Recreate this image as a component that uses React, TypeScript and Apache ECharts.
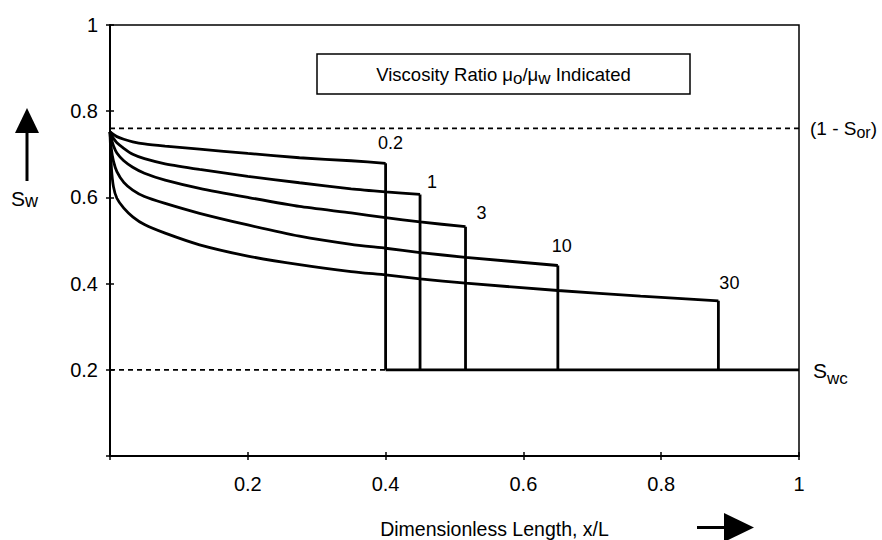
import React, { useEffect, useRef } from "react";
import * as echarts from "echarts";

const FONT = '"Liberation Sans", Arial, Helvetica, sans-serif';

// Dimensionless distance x/L at which the saturation profiles are sampled
const xPositions = [
  0, 0.002, 0.005, 0.01, 0.02, 0.033, 0.05, 0.08, 0.13, 0.2, 0.275, 0.35, 0.4, 0.45, 0.516, 0.65, 0.77, 0.883,
];

// Viscosity ratios mu_o / mu_w, one profile each
const viscosityRatios = ["0.2", "1", "3", "10", "30"];

// Water saturation Sw along x/L; each profile stops at its flood front
const swRatio02 = [0.752, 0.75, 0.746, 0.741, 0.735, 0.729, 0.724, 0.719, 0.712, 0.702, 0.692, 0.685, 0.679];
const swRatio1 = [0.752, 0.745, 0.737, 0.727, 0.714, 0.7, 0.69, 0.678, 0.665, 0.649, 0.634, 0.62, 0.613, 0.607];
const swRatio3 = [0.752, 0.736, 0.72, 0.703, 0.685, 0.67, 0.656, 0.64, 0.621, 0.6, 0.579, 0.564, 0.553, 0.543, 0.532];
const swRatio10 = [
  0.752, 0.712, 0.684, 0.66, 0.635, 0.617, 0.602, 0.586, 0.563, 0.536, 0.51, 0.491, 0.482, 0.472, 0.461, 0.442,
];
const swRatio30 = [
  0.752, 0.67, 0.625, 0.598, 0.575, 0.555, 0.537, 0.517, 0.49, 0.464, 0.444, 0.428, 0.42, 0.411, 0.401, 0.384,
  0.371, 0.36,
];
const profiles = [swRatio02, swRatio1, swRatio3, swRatio10, swRatio30];

const residualOilLimit = 0.76; // 1 - Sor
const connateWater = 0.2; // Swc

// label nudges for the ratio tags next to each front
const tagOffsets: [number, number][] = [
  [5, -6],
  [12, 2],
  [16, 1],
  [4, -5],
  [11, -3],
];

const BLACK = "#000";

export default function App() {
  const ref = useRef<HTMLDivElement>(null);

  useEffect(() => {
    if (!ref.current) return;
    const chart = echarts.init(ref.current, undefined, { renderer: "svg" });

    const fronts = profiles.map((p) => ({ x: xPositions[p.length - 1], sw: p[p.length - 1] }));
    const solid = { color: BLACK, width: 2.8 };
    const dashed = { color: BLACK, width: 1.8, type: [5, 4] as number[] };

    const series: any[] = [];
    profiles.forEach((p, i) => {
      series.push({
        type: "line",
        name: viscosityRatios[i],
        data: p.map((v, k) => [xPositions[k], v]),
        smooth: 0.2,
        symbol: "none",
        lineStyle: solid,
        z: 3,
      });
      series.push({
        type: "line",
        data: [
          [fronts[i].x, fronts[i].sw],
          [fronts[i].x, connateWater],
        ],
        symbol: "none",
        lineStyle: solid,
        z: 3,
      });
    });
    // connate water level ahead of the slowest front (solid) and behind it (dashed)
    series.push({
      type: "line",
      data: [
        [fronts[0].x, connateWater],
        [1, connateWater],
      ],
      symbol: "none",
      lineStyle: solid,
      z: 3,
    });
    series.push({
      type: "line",
      data: [
        [0, connateWater],
        [fronts[0].x, connateWater],
      ],
      symbol: "none",
      lineStyle: dashed,
    });
    series.push({
      type: "line",
      data: [
        [0, residualOilLimit],
        [1, residualOilLimit],
      ],
      symbol: "none",
      lineStyle: dashed,
    });
    // ratio tags at the front tops
    series.push({
      type: "scatter",
      symbolSize: 1,
      itemStyle: { color: "rgba(0,0,0,0)", opacity: 1 },
      data: fronts.map((f, i) => ({
        value: [f.x, f.sw],
        label: {
          show: true,
          position: "top",
          offset: tagOffsets[i],
          formatter: viscosityRatios[i],
          fontFamily: FONT,
          fontSize: 18,
          color: BLACK,
          opacity: 1,
        },
      })),
      z: 4,
    });

    const tickFmt = (v: number) => (v === 0 ? "" : String(v));
    const baseAxis = {
      type: "value" as const,
      min: 0,
      max: 1,
      interval: 0.2,
      splitLine: { show: false },
    };

    const sub = (size: number, drop: number) => ({
      fontFamily: FONT,
      fontSize: size,
      fill: BLACK,
      padding: [drop, 0, 0, 0],
    });
    const main = (size: number) => ({ fontFamily: FONT, fontSize: size, fill: BLACK });

    chart.setOption({
      animation: false,
      backgroundColor: "#fff",
      grid: {
        left: 110,
        right: 83,
        top: 25,
        bottom: 84,
        show: true,
        borderColor: BLACK,
        borderWidth: 1.5,
        backgroundColor: "transparent",
      },
      xAxis: [
        {
          ...baseAxis,
          position: "bottom",
          axisLine: { show: true, lineStyle: { color: BLACK, width: 2 } },
          axisTick: { show: true, length: 4, lineStyle: { color: BLACK, width: 1.5 } },
          axisLabel: { fontFamily: FONT, fontSize: 20, color: BLACK, margin: 18, formatter: tickFmt },
        },
        {
          ...baseAxis,
          position: "bottom",
          axisLine: { show: false },
          axisTick: { show: true, inside: true, length: 4, lineStyle: { color: BLACK, width: 1.5 } },
          axisLabel: { show: false },
        },
      ],
      yAxis: [
        {
          ...baseAxis,
          position: "left",
          axisLine: { show: true, lineStyle: { color: BLACK, width: 2 } },
          axisTick: { show: true, length: 4, lineStyle: { color: BLACK, width: 1.5 } },
          axisLabel: { fontFamily: FONT, fontSize: 20, color: BLACK, margin: 12, formatter: tickFmt },
        },
        {
          ...baseAxis,
          position: "left",
          axisLine: { show: false },
          axisTick: { show: true, inside: true, length: 4, lineStyle: { color: BLACK, width: 1.5 } },
          axisLabel: { show: false },
        },
      ],
      series,
      graphic: [
        {
          type: "rect",
          shape: { x: 317, y: 54, width: 373, height: 40 },
          style: { fill: "#fff", stroke: BLACK, lineWidth: 1.5 },
          z: 10,
        },
        {
          type: "text",
          x: 503.5,
          y: 74,
          z: 11,
          style: {
            text: "{m|Viscosity Ratio μ}{s|o}{m|/μ}{s|w}{m| Indicated}",
            align: "center",
            verticalAlign: "middle",
            rich: { m: main(18.5), s: sub(17, 9) },
          },
        },
        {
          type: "text",
          x: 11,
          y: 198,
          z: 11,
          style: {
            text: "{m|S}{s|w}",
            align: "left",
            verticalAlign: "middle",
            rich: { m: main(21), s: sub(18, 5) },
          },
        },
        {
          type: "polygon",
          shape: { points: [[15, 133], [39, 133], [27, 108]] },
          style: { fill: BLACK },
        },
        {
          type: "rect",
          shape: { x: 25.5, y: 132, width: 3, height: 49 },
          style: { fill: BLACK },
        },
        {
          type: "text",
          x: 810,
          y: 128,
          z: 11,
          style: {
            text: "{m|(1 - S}{s|or}{m|)}",
            align: "left",
            verticalAlign: "middle",
            rich: { m: main(19), s: sub(16, 8) },
          },
        },
        {
          type: "text",
          x: 813,
          y: 370,
          z: 11,
          style: {
            text: "{m|S}{s|wc}",
            align: "left",
            verticalAlign: "middle",
            rich: { m: main(21), s: sub(17, 16) },
          },
        },
        {
          type: "text",
          x: 494.5,
          y: 529,
          z: 11,
          style: {
            text: "Dimensionless Length, x/L",
            align: "center",
            verticalAlign: "middle",
            fontFamily: FONT,
            fontSize: 19.5,
            fill: BLACK,
          },
        },
        {
          type: "rect",
          shape: { x: 697, y: 526, width: 30, height: 3 },
          style: { fill: BLACK },
        },
        {
          type: "polygon",
          shape: { points: [[724, 513], [724, 542], [754, 527.5]] },
          style: { fill: BLACK },
        },
      ],
    });

    return () => chart.dispose();
  }, []);

  return <div ref={ref} style={{ position: "fixed", left: 0, top: 0, width: 882, height: 540 }} />;
}
